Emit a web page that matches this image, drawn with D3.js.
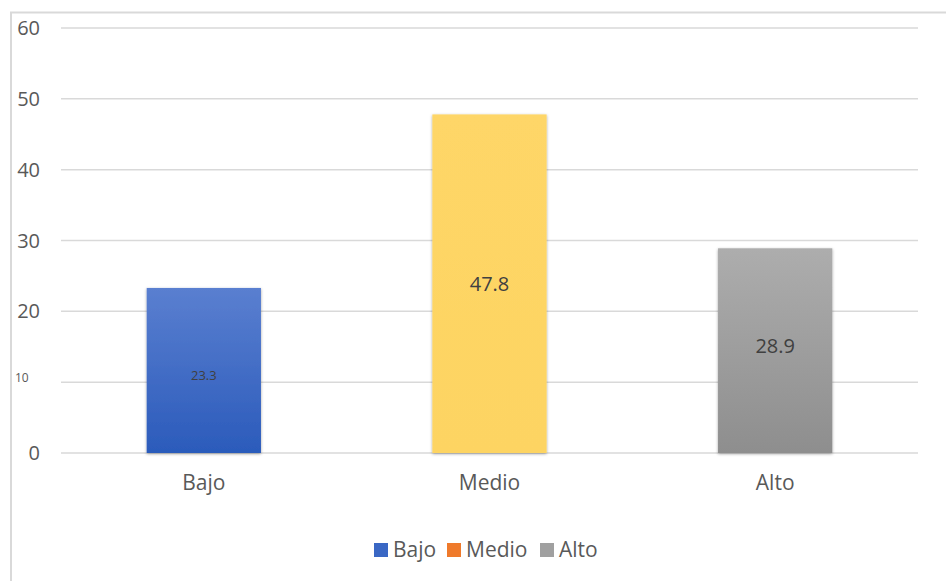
<html>
<head>
    <script src="https://cdn.jsdelivr.net/npm/d3@7"></script>
    <style>
        body { margin: 0; background: #fff; }
        text { font-family: "Open Sans", sans-serif; fill: #595959; }
    </style>
</head>
<body>
    <div id="container"></div>
    <script>
        // chart data
        const categories = ["Bajo", "Medio", "Alto"];
        const values = [23.3, 47.8, 28.9];
        const yTicks = [0, 10, 20, 30, 40, 50, 60];
        const legendColors = ["#3a67c4", "#ef7a2b", "#a0a0a0"];

        const width = 946, height = 581;

        const svg = d3.select("#container").append("svg")
            .attr("width", width)
            .attr("height", height);

        const defs = svg.append("defs");
        const grads = [
            ["gBajo", "#5a7fd0", "#2b5bbb"],
            ["gMedio", "#fed667", "#fdd462"],
            ["gAlto", "#adadad", "#8e8e8e"]
        ];
        grads.forEach(g => {
            const lg = defs.append("linearGradient")
                .attr("id", g[0]).attr("x1", 0).attr("y1", 0).attr("x2", 0).attr("y2", 1);
            lg.append("stop").attr("offset", "0%").attr("stop-color", g[1]);
            lg.append("stop").attr("offset", "100%").attr("stop-color", g[2]);
        });
        const shadow = defs.append("filter").attr("id", "shadow")
            .attr("x", "-10%").attr("y", "-10%").attr("width", "120%").attr("height", "120%");
        shadow.append("feDropShadow")
            .attr("dx", 0).attr("dy", 1).attr("stdDeviation", 1.5)
            .attr("flood-color", "#000").attr("flood-opacity", 0.35);

        // outer border (top + left only, like the source image)
        svg.append("line").attr("x1", 10).attr("x2", width).attr("y1", 12.5).attr("y2", 12.5)
            .attr("stroke", "#d9d9d9").attr("stroke-width", 2);
        svg.append("line").attr("x1", 11).attr("x2", 11).attr("y1", 12).attr("y2", height)
            .attr("stroke", "#d9d9d9").attr("stroke-width", 2);

        const x = d3.scaleBand()
            .domain(categories)
            .range([61, 918])
            .paddingInner(0.6)
            .paddingOuter(0.3);

        const y = d3.scaleLinear()
            .domain([0, 60])
            .range([453, 28]);

        // gridlines
        svg.append("g")
            .selectAll("line")
            .data(yTicks)
            .join("line")
            .attr("x1", 61).attr("x2", 918)
            .attr("y1", d => y(d)).attr("y2", d => y(d))
            .attr("stroke", "#d9d9d9")
            .attr("stroke-width", 1.5);

        // y tick labels ("10" is drawn smaller and left-set in the original)
        svg.append("g")
            .selectAll("text")
            .data(yTicks)
            .join("text")
            .attr("x", d => d === 10 ? 15 : 40)
            .attr("y", d => y(d) + (d === 10 ? 0 : 7))
            .attr("text-anchor", d => d === 10 ? "start" : "end")
            .attr("font-size", d => d === 10 ? 12 : 20)
            .text(d => d);

        // bars
        const gradIds = ["gBajo", "gMedio", "gAlto"];
        svg.append("g")
            .selectAll("rect")
            .data(values)
            .join("rect")
            .attr("x", (d, i) => x(categories[i]))
            .attr("y", d => y(d))
            .attr("width", x.bandwidth())
            .attr("height", d => y(0) - y(d))
            .attr("fill", (d, i) => `url(#${gradIds[i]})`)
            .attr("filter", "url(#shadow)");

        // value labels
        const labelSize = [13, 20, 20];
        const labelY = [380, 291, 353];
        svg.append("g")
            .selectAll("text")
            .data(values)
            .join("text")
            .attr("x", (d, i) => x(categories[i]) + x.bandwidth() / 2)
            .attr("y", (d, i) => labelY[i])
            .attr("text-anchor", "middle")
            .attr("font-size", (d, i) => labelSize[i])
            .style("fill", "#404040")
            .text(d => d.toFixed(1));

        // category labels
        svg.append("g")
            .selectAll("text")
            .data(categories)
            .join("text")
            .attr("x", d => x(d) + x.bandwidth() / 2)
            .attr("y", 490)
            .attr("text-anchor", "middle")
            .attr("font-size", 21)
            .text(d => d);

        // legend
        const legendX = [374, 447, 540];
        const legend = svg.append("g")
            .selectAll("g")
            .data(categories)
            .join("g")
            .attr("transform", (d, i) => `translate(${legendX[i]},0)`);
        legend.append("rect")
            .attr("x", 0).attr("y", 543)
            .attr("width", 14).attr("height", 14)
            .attr("fill", (d, i) => legendColors[i]);
        legend.append("text")
            .attr("x", 19).attr("y", 557)
            .attr("font-size", 21)
            .text(d => d);
    </script>
</body>
</html>
